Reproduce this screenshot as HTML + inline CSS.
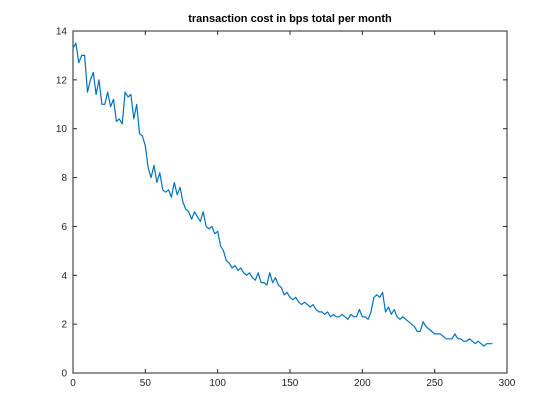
<!DOCTYPE html>
<html><head><meta charset="utf-8"><style>
body{margin:0;background:#fff;}
svg{display:block;font-family:"Liberation Sans",sans-serif;}
</style></head><body>
<svg id="chart" width="560" height="420">
<rect width="560" height="420" fill="#fff"/>
<text x="290" y="22" text-anchor="middle" font-size="11" font-weight="bold" fill="#000">transaction cost in bps total per month</text>
<g id="axes"></g>
</svg>
<script>
const months = [];
for (let i = 0; i <= 290; i += 2) months.push(i);
const costs = [13.3,13.5,12.7,13.0,13.0,11.5,12.0,12.3,11.4,12.0,11.0,11.0,11.5,10.9,11.2,10.3,10.4,10.2,11.5,11.3,11.4,10.4,11.0,9.8,9.7,9.3,8.4,8.0,8.5,7.8,8.2,7.5,7.4,7.5,7.2,7.8,7.3,7.6,7.0,6.7,6.6,6.3,6.6,6.4,6.2,6.6,6.0,5.9,6.0,5.7,5.8,5.2,5.0,4.6,4.5,4.3,4.4,4.2,4.3,4.1,4.0,4.1,3.9,3.8,4.1,3.7,3.7,3.6,4.1,3.7,3.9,3.6,3.5,3.2,3.3,3.1,3.0,3.1,2.9,2.8,2.9,2.8,2.7,2.8,2.6,2.5,2.5,2.4,2.5,2.3,2.4,2.3,2.3,2.4,2.3,2.2,2.4,2.3,2.3,2.6,2.3,2.3,2.2,2.5,3.1,3.2,3.1,3.3,2.5,2.7,2.4,2.6,2.3,2.2,2.3,2.2,2.1,2.0,1.9,1.7,1.7,2.1,1.9,1.8,1.7,1.6,1.6,1.6,1.5,1.4,1.4,1.4,1.6,1.4,1.4,1.3,1.3,1.4,1.3,1.2,1.3,1.2,1.1,1.2,1.2,1.2];
const xTicks = [0,50,100,150,200,250,300];
const yTicks = [0,2,4,6,8,10,12,14];

const L=73,R=507,T=31,B=373;
const xS=v=>L+(v-0)/300*(R-L);
const yS=v=>B-(v-0)/14*(B-T);
const NS='http://www.w3.org/2000/svg';
const g=document.getElementById('axes');
function mk(tag,attrs){const e=document.createElementNS(NS,tag);for(const k in attrs)e.setAttribute(k,attrs[k]);g.appendChild(e);return e;}

const frame=mk('rect',{x:L,y:T,width:R-L,height:B-T,fill:'none',stroke:'#262626','stroke-width':1});



xTicks.forEach(t=>{
  const x=xS(t);
  const a=mk('line',{x1:x,x2:x,y1:B,y2:B-4,stroke:'#262626'});
  
  
  const b=mk('line',{x1:x,x2:x,y1:T,y2:T+4,stroke:'#262626'});
  
  
  const tx=mk('text',{x:x,y:B+13,'text-anchor':'middle','font-size':10,fill:'#262626'});
  tx.textContent=t;
  
  
});
yTicks.forEach(t=>{
  const y=yS(t);
  const a=mk('line',{x1:L,x2:L+4,y1:y,y2:y,stroke:'#262626'});
  
  
  const b=mk('line',{x1:R,x2:R-4,y1:y,y2:y,stroke:'#262626'});
  
  
  const tx=mk('text',{x:L-6,y:y+3.5,'text-anchor':'end','font-size':10,fill:'#262626'});
  tx.textContent=t;
  
  
});

const pts=costs.map((v,i)=>xS(months[i]).toFixed(1)+','+yS(v).toFixed(1)).join(' ');
const line=mk('polyline',{points:pts,fill:'none',stroke:'#0072bd','stroke-width':1.2,'stroke-linejoin':'round'});


</script>
</body></html>
